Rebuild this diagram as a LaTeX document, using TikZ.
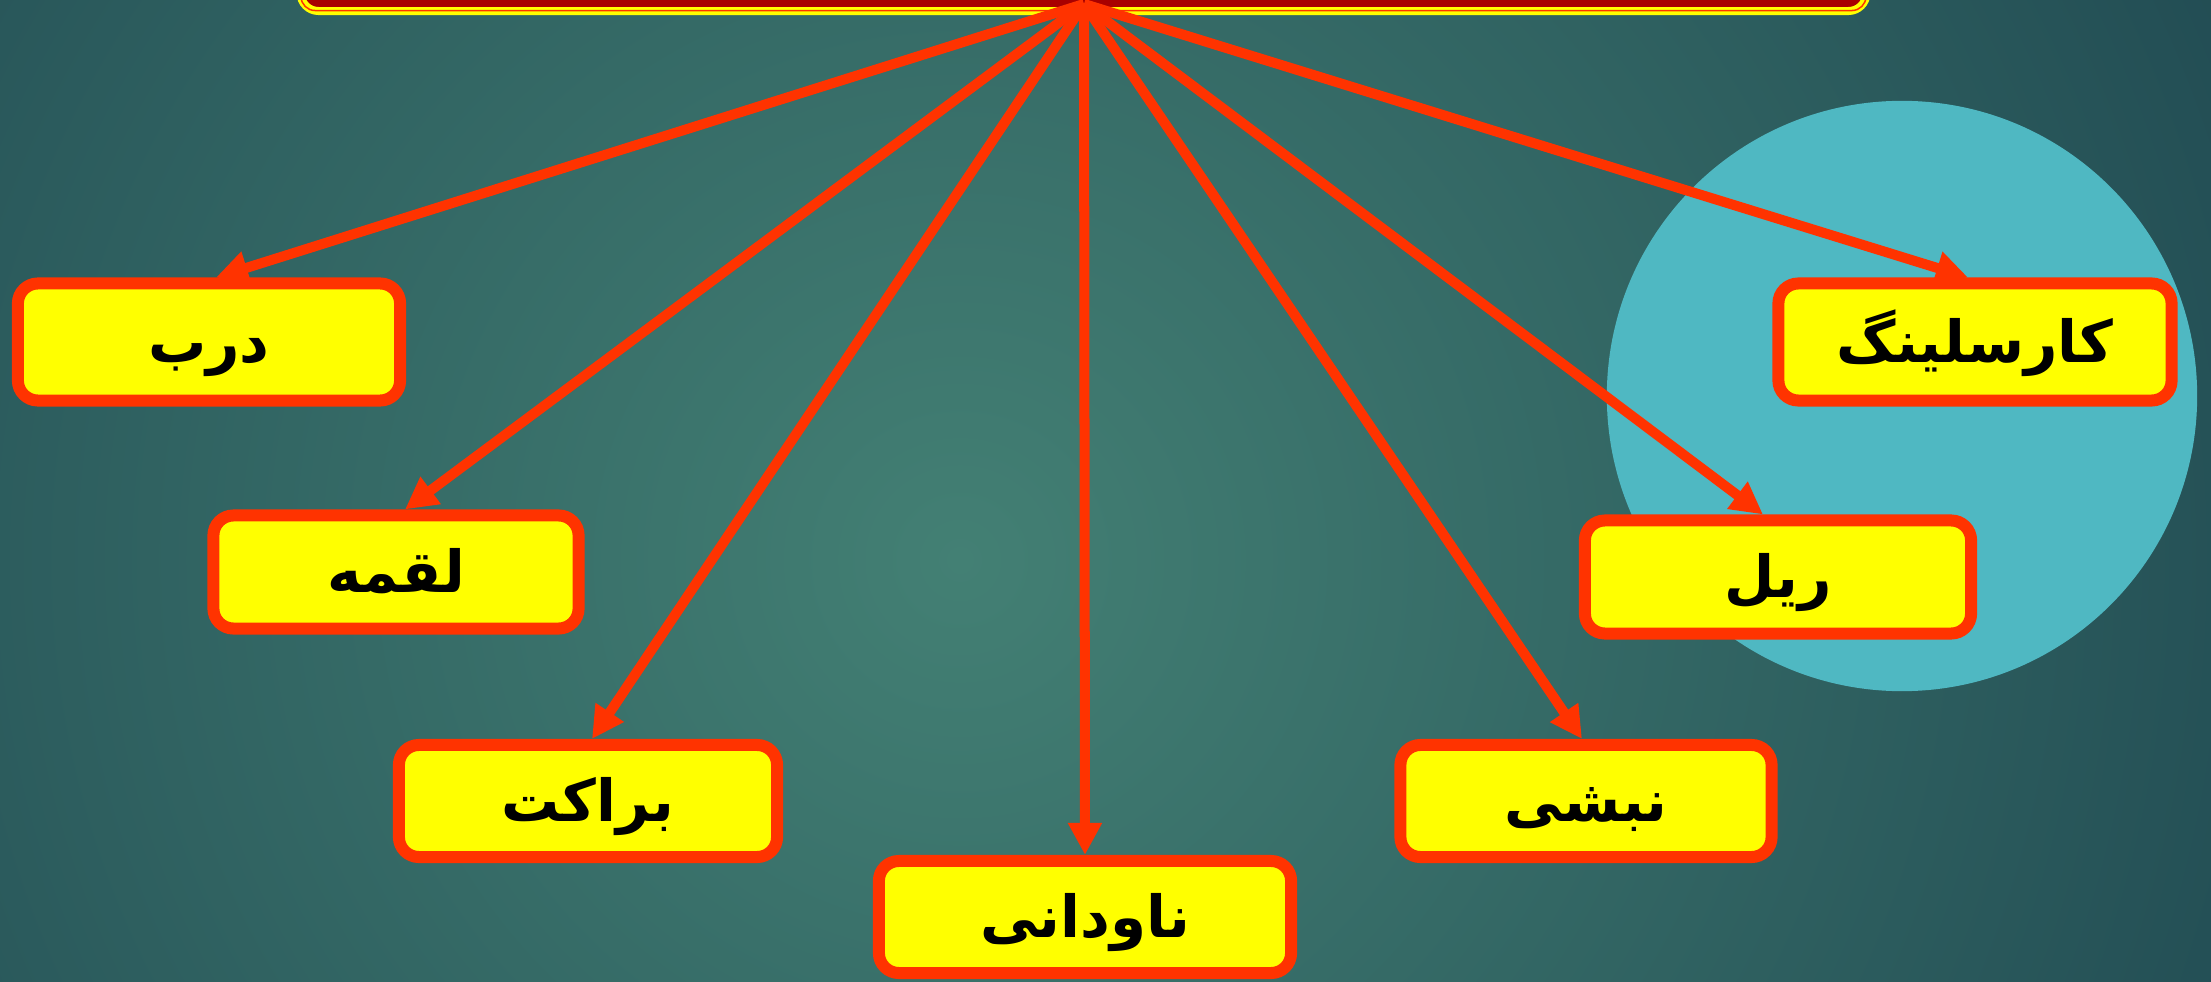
\documentclass[tikz,border=0pt]{standalone}
\usepackage{fontspec}
\TeXXeTstate=1
\newfontfamily\arabicfont[Script=Arabic]{DejaVu Sans}
\usetikzlibrary{arrows.meta}
\definecolor{bgin}{RGB}{67,128,116}
\definecolor{bgout}{RGB}{22,58,72}
\definecolor{circ}{RGB}{79,184,194}
\definecolor{bred}{RGB}{255,51,0}
\definecolor{topred}{RGB}{168,0,0}
\definecolor{byellow}{RGB}{255,255,0}
\tikzset{
  box/.style={draw=bred, fill=byellow, line width=0.12cm, rounded corners=0.2cm,
    inner sep=0pt, text height=0.52cm, text depth=0.12cm,
    font=\arabicfont\bfseries\fontsize{16.5pt}{20pt}\selectfont, text=black},
  topbox/.style={draw=byellow, fill=topred, line width=0.08cm, rounded corners=0.18cm, inner sep=0pt},
  link/.style={draw=bred, line width=0.1cm, -{Triangle[length=0.32cm,width=0.32cm]}}
}
\begin{document}
\begin{tikzpicture}[x=0.01cm,y=-0.01cm]
\useasboundingbox (0,0) rectangle (2211,982);
\begin{scope}
  \clip (0,0) rectangle (2211,982);
  \fill[bgout] (0,0) rectangle (2211,982);
  \shade[inner color=bgin, outer color=bgout] (960,560) circle (19cm);
\end{scope}
\fill[circ] (1902,396) circle (2.95cm);
% top box
\node[topbox, minimum width=15.65cm, minimum height=1.0cm] (top) at (1083.5,-39) {};
\draw[bred, line width=0.015cm, rounded corners=0.14cm]
  ([xshift=0.045cm,yshift=0.3cm]top.south west) -- ([xshift=0.045cm,yshift=0.045cm]top.south west)
  -- ([xshift=-0.045cm,yshift=0.045cm]top.south east) -- ([xshift=-0.045cm,yshift=0.3cm]top.south east);
\coordinate (apex) at (1084,4);
% boxes
\node[box, minimum width=3.82cm, minimum height=1.17cm] (darb) at (209,342) {\beginR درب\endR};
\node[box, minimum width=3.93cm, minimum height=1.17cm] (kar) at (1975,342) {\beginR کارسلینگ\endR};
\node[box, minimum width=3.65cm, minimum height=1.13cm] (loqme) at (396,572) {\beginR لقمه\endR};
\node[box, minimum width=3.86cm, minimum height=1.13cm] (rail) at (1778,577) {\beginR ریل\endR};
\node[box, minimum width=3.78cm, minimum height=1.12cm] (bracket) at (588,801) {\beginR براکت\endR};
\node[box, minimum width=3.71cm, minimum height=1.12cm] (nabshi) at (1586,801) {\beginR نبشی\endR};
\node[box, minimum width=4.12cm, minimum height=1.12cm] (navdani) at (1085,917) {\beginR ناودانی\endR};
% connectors
\draw[link] (apex) -- ([xshift=0.07cm]darb.north);
\draw[link] (apex) -- ([xshift=0.09cm]loqme.north);
\draw[link] (apex) -- ([xshift=0.04cm]bracket.north);
\draw[link] (apex) -- (navdani.north);
\draw[link] (apex) -- ([xshift=-0.04cm]nabshi.north);
\draw[link] (apex) -- ([xshift=-0.15cm]rail.north);
\draw[link] (apex) -- ([xshift=-0.07cm]kar.north);
\end{tikzpicture}
\end{document}
